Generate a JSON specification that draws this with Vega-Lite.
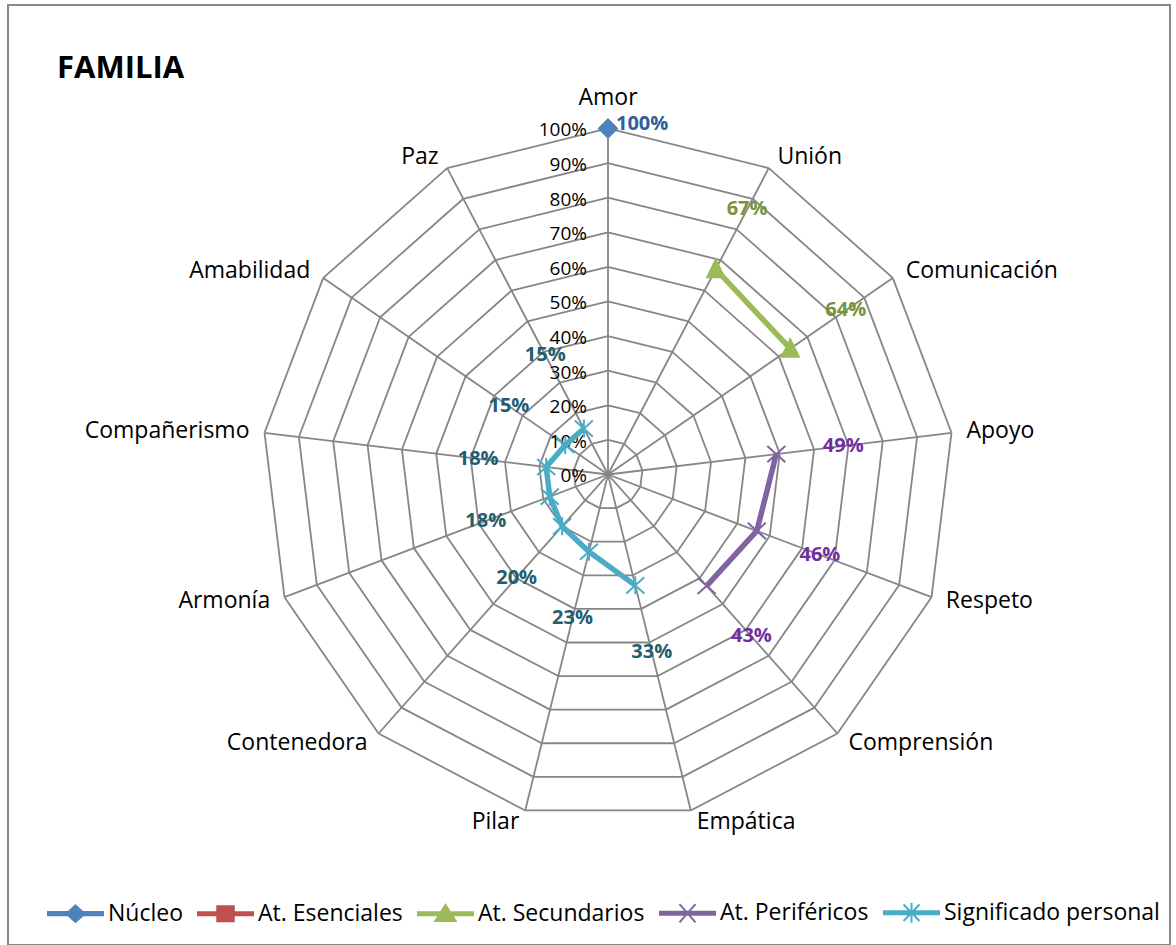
{
  "$schema": "https://vega.github.io/schema/vega-lite/v6.json",
  "width": 1162,
  "height": 940,
  "autosize": {"type": "none"},
  "padding": {"left": 8, "top": 5, "right": 6, "bottom": 0},
  "background": "white",
  "config": {"view": {"stroke": "#898989", "strokeWidth": 2}, "font": "Open Sans"},
  "title": {"text": "FAMILIA", "anchor": "start", "frame": "group", "orient": "top", "offset": 0, "dx": 49, "dy": 104, "baseline": "alphabetic", "font": "Open Sans", "fontSize": 31, "fontWeight": "bold", "color": "black"},
  "datasets": {
    "cats": [
      {"cat": "Amor", "i": 0}, {"cat": "Unión", "i": 1}, {"cat": "Comunicación", "i": 2},
      {"cat": "Apoyo", "i": 3}, {"cat": "Respeto", "i": 4}, {"cat": "Comprensión", "i": 5},
      {"cat": "Empática", "i": 6}, {"cat": "Pilar", "i": 7}, {"cat": "Contenedora", "i": 8},
      {"cat": "Armonía", "i": 9}, {"cat": "Compañerismo", "i": 10}, {"cat": "Amabilidad", "i": 11},
      {"cat": "Paz", "i": 12}
    ],
    "rings": [{"lv": [10, 20, 30, 40, 50, 60, 70, 80, 90, 100], "k": [0, 1, 2, 3, 4, 5, 6, 7, 8, 9, 10, 11, 12]}],
    "levels": [
      {"v": 0, "t": "0%"}, {"v": 10, "t": "10%"}, {"v": 20, "t": "20%"}, {"v": 30, "t": "30%"},
      {"v": 40, "t": "40%"}, {"v": 50, "t": "50%"}, {"v": 60, "t": "60%"}, {"v": 70, "t": "70%"},
      {"v": 80, "t": "80%"}, {"v": 90, "t": "90%"}, {"v": 100, "t": "100%"}
    ],
    "vals": [
      {"series": "Núcleo", "cat": "Amor", "value": 100},
      {"series": "At. Secundarios", "cat": "Unión", "value": 67},
      {"series": "At. Secundarios", "cat": "Comunicación", "value": 64},
      {"series": "At. Periféricos", "cat": "Apoyo", "value": 49},
      {"series": "At. Periféricos", "cat": "Respeto", "value": 46},
      {"series": "At. Periféricos", "cat": "Comprensión", "value": 43},
      {"series": "Significado personal", "cat": "Empática", "value": 33},
      {"series": "Significado personal", "cat": "Pilar", "value": 23},
      {"series": "Significado personal", "cat": "Contenedora", "value": 20},
      {"series": "Significado personal", "cat": "Armonía", "value": 18},
      {"series": "Significado personal", "cat": "Compañerismo", "value": 18},
      {"series": "Significado personal", "cat": "Amabilidad", "value": 15},
      {"series": "Significado personal", "cat": "Paz", "value": 15}
    ]
  },
  "layer": [
    {
      "data": {"name": "rings"},
      "transform": [
        {"flatten": ["lv"]},
        {"flatten": ["k"]},
        {"calculate": "datum.k*2*PI/13", "as": "a1"},
        {"calculate": "(datum.k+1)*2*PI/13", "as": "a2"},
        {"calculate": "datum.lv*sin(datum.a1)", "as": "rx1"},
        {"calculate": "datum.lv*cos(datum.a1)", "as": "ry1"},
        {"calculate": "datum.lv*sin(datum.a2)", "as": "rx2"},
        {"calculate": "datum.lv*cos(datum.a2)", "as": "ry2"}
      ],
      "mark": {"type": "rule", "color": "#868686", "strokeWidth": 1.8},
      "encoding": {
        "x": {"field": "rx1", "type": "quantitative", "scale": {"domain": [-173.41, 162.43], "nice": false, "zero": false}, "axis": null},
        "y": {"field": "ry1", "type": "quantitative", "scale": {"domain": [-135.98, 135.69], "nice": false, "zero": false}, "axis": null},
        "x2": {"field": "rx2"},
        "y2": {"field": "ry2"}
      }
    },
    {
      "data": {"name": "cats"},
      "transform": [
        {"calculate": "datum.i*2*PI/13", "as": "a"},
        {"calculate": "100*sin(datum.a)", "as": "sx"},
        {"calculate": "100*cos(datum.a)", "as": "sy"},
        {"calculate": "0", "as": "z"}
      ],
      "mark": {"type": "rule", "color": "#868686", "strokeWidth": 1.8},
      "encoding": {
        "x": {"field": "z", "type": "quantitative", "scale": {"domain": [-173.41, 162.43], "nice": false, "zero": false}, "axis": null},
        "y": {"field": "z", "type": "quantitative", "scale": {"domain": [-135.98, 135.69], "nice": false, "zero": false}, "axis": null},
        "x2": {"field": "sx"},
        "y2": {"field": "sy"}
      }
    },
    {
      "data": {"name": "levels"},
      "transform": [{"calculate": "0", "as": "z"}],
      "mark": {"type": "text", "align": "right", "baseline": "middle", "dx": -21, "dy": 2, "fontSize": 19, "color": "black", "font": "Open Sans"},
      "encoding": {
        "x": {"field": "z", "type": "quantitative", "scale": {"domain": [-173.41, 162.43], "nice": false, "zero": false}, "axis": null},
        "y": {"field": "v", "type": "quantitative", "scale": {"domain": [-135.98, 135.69], "nice": false, "zero": false}, "axis": null},
        "text": {"field": "t"}
      }
    },
    {
      "data": {"name": "cats"},
      "transform": [
        {"filter": "datum.i >= 1 && datum.i <= 6"},
        {"calculate": "datum.i*2*PI/13", "as": "a"},
        {"calculate": "103.5*sin(datum.a)", "as": "lx"},
        {"calculate": "103.5*cos(datum.a)", "as": "ly"}
      ],
      "mark": {"type": "text", "align": "left", "baseline": "middle", "dx": 3, "fontSize": 23, "color": "black", "font": "Open Sans"},
      "encoding": {
        "x": {"field": "lx", "type": "quantitative", "scale": {"domain": [-173.41, 162.43], "nice": false, "zero": false}, "axis": null},
        "y": {"field": "ly", "type": "quantitative", "scale": {"domain": [-135.98, 135.69], "nice": false, "zero": false}, "axis": null},
        "text": {"field": "cat"}
      }
    },
    {
      "data": {"name": "cats"},
      "transform": [
        {"filter": "datum.i >= 7"},
        {"calculate": "datum.i*2*PI/13", "as": "a"},
        {"calculate": "103.5*sin(datum.a)", "as": "lx"},
        {"calculate": "103.5*cos(datum.a)", "as": "ly"}
      ],
      "mark": {"type": "text", "align": "right", "baseline": "middle", "dx": -3, "fontSize": 23, "color": "black", "font": "Open Sans"},
      "encoding": {
        "x": {"field": "lx", "type": "quantitative", "scale": {"domain": [-173.41, 162.43], "nice": false, "zero": false}, "axis": null},
        "y": {"field": "ly", "type": "quantitative", "scale": {"domain": [-135.98, 135.69], "nice": false, "zero": false}, "axis": null},
        "text": {"field": "cat"}
      }
    },
    {
      "data": {"name": "cats"},
      "transform": [
        {"filter": "datum.i == 0"},
        {"calculate": "datum.i*2*PI/13", "as": "a"},
        {"calculate": "103.5*sin(datum.a)", "as": "lx"},
        {"calculate": "103.5*cos(datum.a)", "as": "ly"}
      ],
      "mark": {"type": "text", "align": "center", "baseline": "alphabetic", "dy": -11, "fontSize": 23, "color": "black", "font": "Open Sans"},
      "encoding": {
        "x": {"field": "lx", "type": "quantitative", "scale": {"domain": [-173.41, 162.43], "nice": false, "zero": false}, "axis": null},
        "y": {"field": "ly", "type": "quantitative", "scale": {"domain": [-135.98, 135.69], "nice": false, "zero": false}, "axis": null},
        "text": {"field": "cat"}
      }
    },
    {
      "data": {"name": "vals"},
      "transform": [
        {"lookup": "cat", "from": {"data": {"name": "cats"}, "key": "cat", "fields": ["i"]}},
        {"calculate": "datum.i*2*PI/13", "as": "a"},
        {"calculate": "datum.value*sin(datum.a)", "as": "px"},
        {"calculate": "datum.value*cos(datum.a)", "as": "py"}
      ],
      "mark": {"type": "line", "strokeWidth": 5.5, "strokeJoin": "round"},
      "encoding": {
        "x": {"field": "px", "type": "quantitative", "scale": {"domain": [-173.41, 162.43], "nice": false, "zero": false}, "axis": null},
        "y": {"field": "py", "type": "quantitative", "scale": {"domain": [-135.98, 135.69], "nice": false, "zero": false}, "axis": null},
        "order": {"field": "i", "type": "quantitative"},
        "color": {
          "field": "series", "type": "nominal",
          "scale": {"domain": ["Núcleo", "At. Esenciales", "At. Secundarios", "At. Periféricos", "Significado personal"], "range": ["#4F81BD", "#C0504D", "#9BBB59", "#8064A2", "#4BACC6"]},
          "legend": {
            "title": null, "orient": "none", "direction": "horizontal", "columns": 5,
            "legendX": 39, "legendY": 879, "padding": 0, "columnPadding": 11,
            "symbolSize": 3025, "symbolStrokeWidth": 2, "labelOffset": 4,
            "labelFont": "Open Sans", "labelFontSize": 23, "labelColor": "black", "labelLimit": 400,
            "encode": {"symbols": {"update": {
              "shape": {"signal": "datum.value === 'Núcleo' ? 'M-1,-0.055L1,-0.055L1,0.055L-1,0.055ZM0,-0.3L0.33,0L0,0.3L-0.33,0Z' : datum.value === 'At. Esenciales' ? 'M-1,-0.055L1,-0.055L1,0.055L-1,0.055ZM-0.3,-0.27L0.3,-0.27L0.3,0.27L-0.3,0.27Z' : datum.value === 'At. Secundarios' ? 'M-1,-0.055L1,-0.055L1,0.055L-1,0.055ZM0,-0.32L0.37,0.26L-0.37,0.26Z' : datum.value === 'At. Periféricos' ? 'M-1,-0.055L1,-0.055L1,0.055L-1,0.055ZM-0.29,-0.33L0.29,0.33M-0.29,0.33L0.29,-0.33' : 'M-1,-0.055L1,-0.055L1,0.055L-1,0.055ZM-0.29,-0.3L0.29,0.3M-0.29,0.3L0.29,-0.3M0,-0.36L0,0.36'"},
              "fill": {"scale": "color", "field": "value"},
              "stroke": {"scale": "color", "field": "value"},
              "strokeWidth": {"value": 2},
              "opacity": {"value": 1}
            }}}
          }
        }
      }
    },
    {
      "data": {"name": "vals"},
      "transform": [
        {"filter": "datum.series === 'Núcleo'"},
        {"lookup": "cat", "from": {"data": {"name": "cats"}, "key": "cat", "fields": ["i"]}},
        {"calculate": "datum.i*2*PI/13", "as": "a"},
        {"calculate": "datum.value*sin(datum.a)", "as": "px"},
        {"calculate": "datum.value*cos(datum.a)", "as": "py"}
      ],
      "mark": {"type": "point", "shape": "diamond", "size": 324, "strokeWidth": 2, "opacity": 1, "fill": "#4F81BD", "stroke": "#4F81BD"},
      "encoding": {
        "x": {"field": "px", "type": "quantitative", "scale": {"domain": [-173.41, 162.43], "nice": false, "zero": false}, "axis": null},
        "y": {"field": "py", "type": "quantitative", "scale": {"domain": [-135.98, 135.69], "nice": false, "zero": false}, "axis": null}
      }
    },
    {
      "data": {"name": "vals"},
      "transform": [
        {"filter": "datum.series === 'At. Secundarios'"},
        {"lookup": "cat", "from": {"data": {"name": "cats"}, "key": "cat", "fields": ["i"]}},
        {"calculate": "datum.i*2*PI/13", "as": "a"},
        {"calculate": "datum.value*sin(datum.a)", "as": "px"},
        {"calculate": "datum.value*cos(datum.a)", "as": "py"}
      ],
      "mark": {"type": "point", "shape": "M0,-1.05L0.95,0.9L-0.95,0.9Z", "size": 324, "strokeWidth": 2, "opacity": 1, "fill": "#9BBB59", "stroke": "#9BBB59"},
      "encoding": {
        "x": {"field": "px", "type": "quantitative", "scale": {"domain": [-173.41, 162.43], "nice": false, "zero": false}, "axis": null},
        "y": {"field": "py", "type": "quantitative", "scale": {"domain": [-135.98, 135.69], "nice": false, "zero": false}, "axis": null}
      }
    },
    {
      "data": {"name": "vals"},
      "transform": [
        {"filter": "datum.series === 'At. Periféricos'"},
        {"lookup": "cat", "from": {"data": {"name": "cats"}, "key": "cat", "fields": ["i"]}},
        {"calculate": "datum.i*2*PI/13", "as": "a"},
        {"calculate": "datum.value*sin(datum.a)", "as": "px"},
        {"calculate": "datum.value*cos(datum.a)", "as": "py"}
      ],
      "mark": {"type": "point", "shape": "M-1,-0.9L1,0.9M-1,0.9L1,-0.9", "size": 324, "strokeWidth": 2, "opacity": 1, "filled": false, "stroke": "#8064A2"},
      "encoding": {
        "x": {"field": "px", "type": "quantitative", "scale": {"domain": [-173.41, 162.43], "nice": false, "zero": false}, "axis": null},
        "y": {"field": "py", "type": "quantitative", "scale": {"domain": [-135.98, 135.69], "nice": false, "zero": false}, "axis": null}
      }
    },
    {
      "data": {"name": "vals"},
      "transform": [
        {"filter": "datum.series === 'Significado personal'"},
        {"lookup": "cat", "from": {"data": {"name": "cats"}, "key": "cat", "fields": ["i"]}},
        {"calculate": "datum.i*2*PI/13", "as": "a"},
        {"calculate": "datum.value*sin(datum.a)", "as": "px"},
        {"calculate": "datum.value*cos(datum.a)", "as": "py"}
      ],
      "mark": {"type": "point", "shape": "M-1,-0.9L1,0.9M-1,0.9L1,-0.9M0,-1L0,1", "size": 324, "strokeWidth": 2, "opacity": 1, "filled": false, "stroke": "#4BACC6"},
      "encoding": {
        "x": {"field": "px", "type": "quantitative", "scale": {"domain": [-173.41, 162.43], "nice": false, "zero": false}, "axis": null},
        "y": {"field": "py", "type": "quantitative", "scale": {"domain": [-135.98, 135.69], "nice": false, "zero": false}, "axis": null}
      }
    },
    {
      "data": {"name": "vals"},
      "transform": [
        {"filter": "datum.series === 'Núcleo'"},
        {"lookup": "cat", "from": {"data": {"name": "cats"}, "key": "cat", "fields": ["i"]}},
        {"calculate": "datum.i*2*PI/13", "as": "a"},
        {"calculate": "datum.value*sin(datum.a)", "as": "px"},
        {"calculate": "datum.value*cos(datum.a)", "as": "py"},
        {"calculate": "datum.value + '%'", "as": "lab"}
      ],
      "mark": {"type": "text", "align": "left", "baseline": "middle", "dx": 8, "dy": -4, "fontSize": 20, "fontWeight": "bold", "color": "#2E5E9B", "font": "Open Sans"},
      "encoding": {
        "x": {"field": "px", "type": "quantitative", "scale": {"domain": [-173.41, 162.43], "nice": false, "zero": false}, "axis": null},
        "y": {"field": "py", "type": "quantitative", "scale": {"domain": [-135.98, 135.69], "nice": false, "zero": false}, "axis": null},
        "text": {"field": "lab"}
      }
    },
    {
      "data": {"name": "vals"},
      "transform": [
        {"filter": "datum.series === 'At. Secundarios'"},
        {"lookup": "cat", "from": {"data": {"name": "cats"}, "key": "cat", "fields": ["i"]}},
        {"calculate": "datum.i*2*PI/13", "as": "a"},
        {"calculate": "(datum.value+19.5)*sin(datum.a)", "as": "qx"},
        {"calculate": "(datum.value+19.5)*cos(datum.a)", "as": "qy"},
        {"calculate": "datum.value + '%'", "as": "lab"}
      ],
      "mark": {"type": "text", "align": "center", "baseline": "middle", "fontSize": 20, "fontWeight": "bold", "color": "#77933C", "font": "Open Sans"},
      "encoding": {
        "x": {"field": "qx", "type": "quantitative", "scale": {"domain": [-173.41, 162.43], "nice": false, "zero": false}, "axis": null},
        "y": {"field": "qy", "type": "quantitative", "scale": {"domain": [-135.98, 135.69], "nice": false, "zero": false}, "axis": null},
        "text": {"field": "lab"}
      }
    },
    {
      "data": {"name": "vals"},
      "transform": [
        {"filter": "datum.series === 'At. Periféricos'"},
        {"lookup": "cat", "from": {"data": {"name": "cats"}, "key": "cat", "fields": ["i"]}},
        {"calculate": "datum.i*2*PI/13", "as": "a"},
        {"calculate": "(datum.value+19.5)*sin(datum.a)", "as": "qx"},
        {"calculate": "(datum.value+19.5)*cos(datum.a)", "as": "qy"},
        {"calculate": "datum.value + '%'", "as": "lab"}
      ],
      "mark": {"type": "text", "align": "center", "baseline": "middle", "fontSize": 20, "fontWeight": "bold", "color": "#7030A0", "font": "Open Sans"},
      "encoding": {
        "x": {"field": "qx", "type": "quantitative", "scale": {"domain": [-173.41, 162.43], "nice": false, "zero": false}, "axis": null},
        "y": {"field": "qy", "type": "quantitative", "scale": {"domain": [-135.98, 135.69], "nice": false, "zero": false}, "axis": null},
        "text": {"field": "lab"}
      }
    },
    {
      "data": {"name": "vals"},
      "transform": [
        {"filter": "datum.series === 'Significado personal' && datum.cat !== 'Paz'"},
        {"lookup": "cat", "from": {"data": {"name": "cats"}, "key": "cat", "fields": ["i"]}},
        {"calculate": "datum.i*2*PI/13", "as": "a"},
        {"calculate": "(datum.value+19.8)*sin(datum.a)", "as": "qx"},
        {"calculate": "(datum.value+19.8)*cos(datum.a)", "as": "qy"},
        {"calculate": "datum.value + '%'", "as": "lab"}
      ],
      "mark": {"type": "text", "align": "center", "baseline": "middle", "fontSize": 20, "fontWeight": "bold", "color": "#235E70", "font": "Open Sans"},
      "encoding": {
        "x": {"field": "qx", "type": "quantitative", "scale": {"domain": [-173.41, 162.43], "nice": false, "zero": false}, "axis": null},
        "y": {"field": "qy", "type": "quantitative", "scale": {"domain": [-135.98, 135.69], "nice": false, "zero": false}, "axis": null},
        "text": {"field": "lab"}
      }
    },
    {
      "data": {"name": "vals"},
      "transform": [
        {"filter": "datum.cat === 'Paz'"},
        {"lookup": "cat", "from": {"data": {"name": "cats"}, "key": "cat", "fields": ["i"]}},
        {"calculate": "datum.i*2*PI/13", "as": "a"},
        {"calculate": "(datum.value+24)*sin(datum.a)", "as": "qx"},
        {"calculate": "(datum.value+24)*cos(datum.a)", "as": "qy"},
        {"calculate": "datum.value + '%'", "as": "lab"}
      ],
      "mark": {"type": "text", "align": "center", "baseline": "middle", "fontSize": 20, "fontWeight": "bold", "color": "#235E70", "font": "Open Sans"},
      "encoding": {
        "x": {"field": "qx", "type": "quantitative", "scale": {"domain": [-173.41, 162.43], "nice": false, "zero": false}, "axis": null},
        "y": {"field": "qy", "type": "quantitative", "scale": {"domain": [-135.98, 135.69], "nice": false, "zero": false}, "axis": null},
        "text": {"field": "lab"}
      }
    }
  ]
}
